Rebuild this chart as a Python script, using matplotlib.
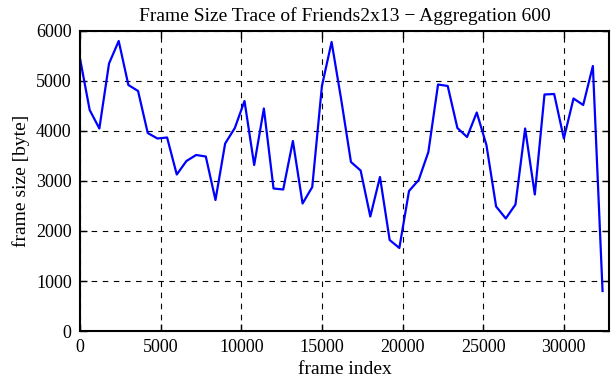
import matplotlib
matplotlib.use("Agg")
import matplotlib.pyplot as plt
import numpy as np

# aggregated frame sizes, one value per 600 frames
agg = 600
frame_size = [5450, 4420, 4050, 5350, 5800, 4920, 4800, 3960, 3850, 3870,
              3130, 3400, 3520, 3490, 2620, 3750, 4060, 4600,
              3320, 4450, 2850, 2830, 3800, 2550, 2880, 4900, 5780, 4620,
              3380, 3210, 2290, 3080, 1820, 1660, 2800, 3020,
              3580, 4930, 4900, 4060, 3880, 4370, 3720, 2490, 2250, 2530,
              4050, 2730, 4730, 4740, 3850, 4650, 4520, 5300, 800]
frame_index = np.arange(len(frame_size)) * agg

plt.rcParams['font.family'] = ['Liberation Serif', 'DejaVu Serif']

fig = plt.figure(figsize=(6.11, 3.80), dpi=100)
ax = fig.add_axes([80/611, 49/380, 529/611, 300/380])

ax.plot(frame_index, frame_size, color='#0000ff', lw=1.6)

ax.set_xlim(0, 32800)
ax.set_ylim(0, 6000)
ax.set_xticks(np.arange(0, 30001, 5000))
ax.set_yticks(np.arange(0, 6001, 1000))
ax.grid(True, color='black', linestyle=(0, (5, 5)), lw=0.8)
ax.tick_params(direction='in', top=True, right=True, labelsize=13, length=5, width=1, pad=6)
for sp in ax.spines.values():
    sp.set_linewidth(1.5)

ax.set_xlabel("frame index", fontsize=14, labelpad=3)
ax.set_ylabel("frame size [byte]", fontsize=14, labelpad=4)
ax.set_title("Frame Size Trace of Friends2x13 \u2212 Aggregation 600", fontsize=14, pad=7)

fig.savefig("out.png", dpi=100)
